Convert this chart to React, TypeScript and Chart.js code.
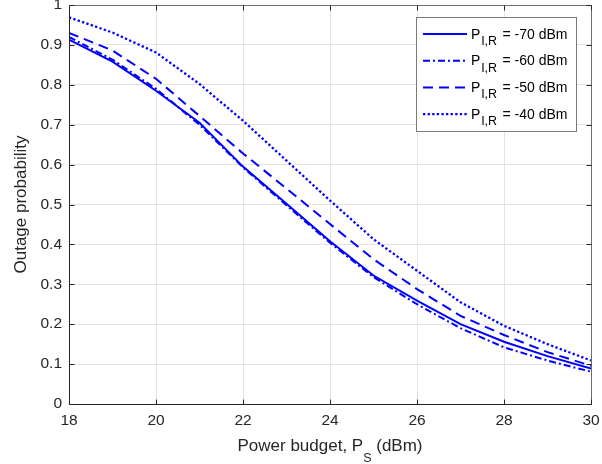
import React, { useEffect, useRef } from "react";
import { Chart, registerables } from "chart.js";

Chart.register(...registerables);

const powerBudget = [18, 19, 20, 21, 22, 23, 24, 25, 26, 27, 28, 29, 30];
const outage70 = [0.913, 0.858, 0.785, 0.705, 0.595, 0.502, 0.408, 0.322, 0.259, 0.2, 0.156, 0.12, 0.089];
const outage60 = [0.92, 0.863, 0.79, 0.7, 0.593, 0.498, 0.404, 0.318, 0.25, 0.19, 0.142, 0.109, 0.081];
const outage50 = [0.93, 0.886, 0.815, 0.722, 0.628, 0.54, 0.451, 0.363, 0.288, 0.221, 0.173, 0.13, 0.096];
const outage40 = [0.969, 0.931, 0.881, 0.802, 0.71, 0.61, 0.51, 0.413, 0.334, 0.255, 0.196, 0.15, 0.109];
const legendValues = ["-70 dBm", "-60 dBm", "-50 dBm", "-40 dBm"];
const dashes: number[][] = [[], [7, 3, 2, 3], [10, 6], [2.3, 2.3]];
const widths = [2, 2, 2, 2.3];

const FONT = "'Liberation Sans', Arial, sans-serif";
const AXIS_COLOR = "#262626";

const overlayPlugin = {
  id: "overlay",
  afterDraw(chart: any) {
    const ctx = chart.ctx as CanvasRenderingContext2D;
    const { left, right, top, bottom } = chart.chartArea;
    const xs = chart.scales.x;
    const ys = chart.scales.y;
    ctx.save();
    // frame
    ctx.strokeStyle = AXIS_COLOR;
    ctx.lineWidth = 1;
    ctx.setLineDash([]);
    ctx.beginPath();
    ctx.moveTo(left + 0.5, top + 0.5);
    ctx.lineTo(left + 0.5, bottom + 0.5);
    ctx.lineTo(right + 0.5, bottom + 0.5);
    ctx.stroke();
    ctx.strokeStyle = "#6e6e6e";
    ctx.beginPath();
    ctx.moveTo(left + 0.5, top + 0.5);
    ctx.lineTo(right + 0.5, top + 0.5);
    ctx.lineTo(right + 0.5, bottom + 0.5);
    ctx.stroke();
    // inward ticks
    ctx.strokeStyle = AXIS_COLOR;
    const tl = 5;
    ctx.beginPath();
    xs.ticks.forEach((t: any) => {
      const px = Math.round(xs.getPixelForValue(t.value)) + 0.5;
      ctx.moveTo(px, bottom + 0.5);
      ctx.lineTo(px, bottom + 0.5 - tl);
      ctx.moveTo(px, top + 0.5);
      ctx.lineTo(px, top + 0.5 + tl);
    });
    ys.ticks.forEach((t: any) => {
      const py = Math.round(ys.getPixelForValue(t.value)) + 0.5;
      ctx.moveTo(left + 0.5, py);
      ctx.lineTo(left + 0.5 + tl, py);
      ctx.moveTo(right + 0.5, py);
      ctx.lineTo(right + 0.5 - tl, py);
    });
    ctx.stroke();

    // axis titles
    ctx.fillStyle = AXIS_COLOR;
    ctx.textBaseline = "alphabetic";
    ctx.textAlign = "left";
    const mainFont = `17px ${FONT}`;
    const subFont = `12.5px ${FONT}`;
    const parts: [string, boolean][] = [
      ["Power budget, P", false],
      ["S", true],
      [" (dBm)", false],
    ];
    let total = 0;
    parts.forEach(([s, sub]) => {
      ctx.font = sub ? subFont : mainFont;
      total += ctx.measureText(s).width;
    });
    let x = (left + right) / 2 - total / 2;
    parts.forEach(([s, sub]) => {
      ctx.font = sub ? subFont : mainFont;
      ctx.fillText(s, x, sub ? 462 : 451);
      x += ctx.measureText(s).width;
    });

    ctx.save();
    ctx.translate(26, (top + bottom) / 2);
    ctx.rotate(-Math.PI / 2);
    ctx.font = mainFont;
    ctx.textAlign = "center";
    ctx.fillText("Outage probability", 0, 0);
    ctx.restore();

    // legend
    const bx = 416, by = 17, bw = 160, bh = 114;
    ctx.fillStyle = "#ffffff";
    ctx.fillRect(bx, by, bw, bh);
    ctx.strokeStyle = "#7a7a7a";
    ctx.lineWidth = 1;
    ctx.strokeRect(bx + 0.5, by + 0.5, bw, bh);
    chart.data.datasets.forEach((ds: any, i: number) => {
      const rowY = 34 + i * 26.7;
      ctx.strokeStyle = ds.borderColor;
      ctx.lineWidth = ds.borderWidth;
      ctx.setLineDash(ds.borderDash || []);
      ctx.beginPath();
      ctx.moveTo(423, rowY);
      ctx.lineTo(467, rowY);
      ctx.stroke();
      ctx.setLineDash([]);
      ctx.fillStyle = "#000000";
      ctx.textAlign = "left";
      let tx = 471;
      const base = rowY + 4.5;
      ctx.font = `14px ${FONT}`;
      ctx.fillText("P", tx, base);
      tx += ctx.measureText("P").width + 0.8;
      ctx.font = `12.5px ${FONT}`;
      ctx.fillText("I,R", tx, base + 6.5);
      tx += ctx.measureText("I,R").width + 1.5;
      ctx.font = `14px ${FONT}`;
      ctx.fillText(" = " + legendValues[i], tx, base);
    });
    ctx.restore();
  },
};

export default function App() {
  const canvasRef = useRef<HTMLCanvasElement | null>(null);

  useEffect(() => {
    document.body.style.margin = "0";
    const canvas = canvasRef.current;
    if (!canvas) return;
    const series = [outage70, outage60, outage50, outage40];
    const chart = new Chart(canvas, {
      type: "line",
      data: {
        datasets: series.map((vals, i) => ({
          label: "P_I,R = " + legendValues[i],
          data: powerBudget.map((p, j) => ({ x: p, y: vals[j] })),
          borderColor: "#0000ff",
          backgroundColor: "#0000ff",
          borderWidth: widths[i],
          borderDash: dashes[i],
          borderCapStyle: "butt",
          pointRadius: 0,
          tension: 0,
          fill: false,
        })),
      },
      options: {
        animation: false,
        responsive: false,
        maintainAspectRatio: false,
        devicePixelRatio: 1,
        layout: { padding: { left: 0, top: 5, right: 11, bottom: 0 } },
        plugins: {
          legend: { display: false },
          tooltip: { enabled: false },
          title: { display: false },
        },
        scales: {
          x: {
            type: "linear",
            min: 18,
            max: 30,
            border: { display: false },
            grid: { color: "#e3e3e3", drawTicks: false, tickLength: 0, lineWidth: 1 },
            ticks: {
              stepSize: 2,
              padding: 7,
              color: AXIS_COLOR,
              font: { family: FONT, size: 15.5 },
              maxRotation: 0,
              autoSkip: false,
            },
            afterFit: (scale: any) => {
              scale.height = 60;
              scale.paddingLeft = 0;
              scale.paddingRight = 0;
            },
          },
          y: {
            type: "linear",
            min: 0,
            max: 1,
            border: { display: false },
            grid: { color: "#e3e3e3", drawTicks: false, tickLength: 0, lineWidth: 1 },
            ticks: {
              stepSize: 0.1,
              padding: 7,
              color: AXIS_COLOR,
              font: { family: FONT, size: 15.5 },
              autoSkip: false,
              callback: (v: any) => String(Number(Number(v).toFixed(1))),
            },
            afterFit: (scale: any) => {
              scale.width = 69;
              scale.paddingTop = 0;
              scale.paddingBottom = 0;
            },
          },
        },
      },
      plugins: [overlayPlugin],
    } as any);
    return () => chart.destroy();
  }, []);

  return (
    <div style={{ position: "absolute", left: 0, top: 0, width: 602, height: 464, background: "#fff" }}>
      <canvas ref={canvasRef} width={602} height={464} style={{ width: 602, height: 464 }} />
    </div>
  );
}
